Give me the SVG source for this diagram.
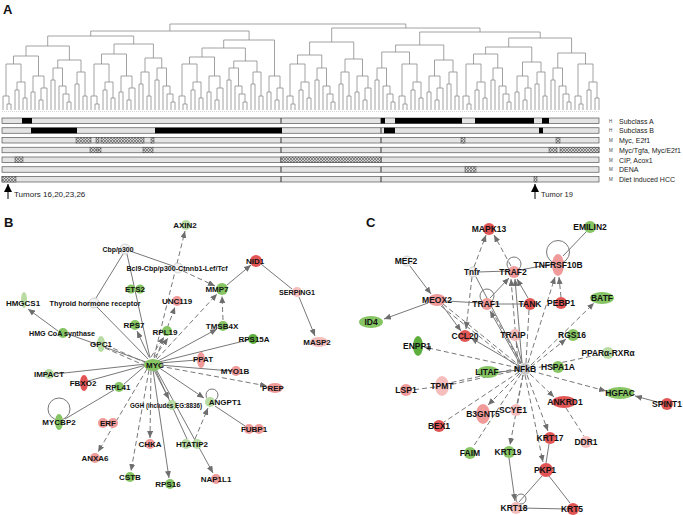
<svg xmlns="http://www.w3.org/2000/svg" width="683" height="515" viewBox="0 0 683 515">
<style>
.dend{stroke:#8a8a8a;stroke-width:0.8;fill:none}
.trk{fill:#e4e4e4;stroke:#555;stroke-width:0.7}
.blk{fill:#000}
.hat{fill:url(#hatch);stroke:#444;stroke-width:0.5}
.div{stroke:#333;stroke-width:1}
.lab{font-family:"Liberation Sans",Arial,sans-serif;font-size:7px;fill:#222}
.hm{font-family:"Liberation Sans",Arial,sans-serif;font-size:4.5px;fill:#444}
.pl{font-family:"Liberation Sans",Arial,sans-serif;font-weight:bold;font-size:13px;fill:#111}
.e{stroke:#787878;stroke-width:1;fill:none}
.d{stroke-dasharray:5 3}
.a{marker-end:url(#ah)}
.t{font-family:"Liberation Sans",Arial,sans-serif;font-weight:bold;font-size:8px;text-anchor:middle;fill:#111}
.tc{font-family:"Liberation Sans",Arial,sans-serif;font-weight:bold;font-size:8.5px;text-anchor:middle;fill:#111}
.g1{fill:#86c464}
.g2{fill:#5eae3e}
.g3{fill:#b9dca4}
.r1{fill:#e25555}
.r2{fill:#f09a9a}
.r3{fill:#f6bdbd}
.w{fill:#f2f2f2;stroke:#c8c8c8;stroke-width:0.8}
.loop{fill:none;stroke:#787878;stroke-width:1}
</style>
<defs>
<pattern id="hatch" width="3" height="3" patternUnits="userSpaceOnUse"><rect width="3" height="3" fill="#d0d0d0"/><path d="M0 0L3 3M3 0L0 3" stroke="#555" stroke-width="0.6"/></pattern>
<marker id="ah" viewBox="0 0 7 6" refX="7" refY="3" markerWidth="7" markerHeight="6" markerUnits="userSpaceOnUse" orient="auto"><path d="M0 0L7 3L0 6z" fill="#6e6e6e"/></marker>
<marker id="ak" viewBox="0 0 8 8" refX="8" refY="4" markerWidth="8" markerHeight="8" markerUnits="userSpaceOnUse" orient="auto"><path d="M0 0L8 4L0 8z" fill="#000"/></marker>
<path id="tA" d="M0 0V-18H4V0M8 0V-10H12V0M10-10V-22H16V0M2-18V-34H13V-22"/>
<path id="tB" d="M16 0V-8H20V0M12 0V-16H18V-8M8 0V-24H15V-16M0 0V-30H4V0M2-30V-42H11.5V-24"/>
<path id="tC" d="M0 0V-26H4V0M8 0V-14H12V0M2-26V-38H10V-14"/>
<path id="tD" d="M4 0V-6H8V0M0 0V-14H6V-6M12 0V-20H16V0M20 0V-12H24V0M14-20V-28H22V-12M3-14V-46H18V-28"/>
</defs>
<rect width="683" height="515" fill="#fff"/>

<!-- Panel A -->
<text class="pl" x="3" y="14">A</text>
<g id="dendrogram" class="dend" transform="translate(-1,0)">
<use href="#tD" x="4" y="110"/><use href="#tA" x="32" y="110"/><use href="#tB" x="52" y="110"/><use href="#tC" x="76" y="110"/>
<use href="#tD" x="92" y="110"/><use href="#tA" x="120" y="110"/><use href="#tC" x="140" y="110"/><use href="#tB" x="156" y="110"/>
<use href="#tD" x="180" y="110"/><use href="#tA" x="208" y="110"/><use href="#tB" x="228" y="110"/><use href="#tC" x="252" y="110"/>
<use href="#tA" x="268" y="110"/><use href="#tD" x="288" y="110"/><use href="#tB" x="316" y="110"/><use href="#tC" x="340" y="110"/>
<use href="#tA" x="356" y="110"/><use href="#tB" x="376" y="110"/><use href="#tD" x="400" y="110"/><use href="#tA" x="428" y="110"/>
<use href="#tC" x="448" y="110"/><use href="#tD" x="464" y="110"/><use href="#tB" x="492" y="110"/><use href="#tA" x="516" y="110"/>
<use href="#tC" x="536" y="110"/><use href="#tB" x="552" y="110"/><use href="#tD" x="576" y="110"/>
<path d="M14.5 64V56H39.5V76M58.75 68V60H82V72M27 56V46H70.4V60M102.5 64V54H127.5V76M146 72V58H162.75V68M115 54V44H154.4V58M48.7 46V36H134.7V44M190.5 64V57H215.5V76M234.75 68V61H258V72M203 57V48H246.4V61M224.7 48V40H275.5V76M91.7 36V31H250.1V40M298.5 64V55H322.75V68M346 72V59H363.5V76M310.6 55V42H354.75V59M382.75 68V52H410.5V64M435.5 76V60H454V72M396.6 52V45H444.75V60M474.5 64V54H498.75V68M523.5 76V62H542V72M486.6 54V47H532.75V62M558.75 68V53H586.5V64M509.7 47V38H572.6V53M420.7 45V32H541.2V38M332.7 42V28H481V32M170.9 31V24H406.8V28"/>
</g>
<line x1="2" y1="111.5" x2="599" y2="111.5" stroke="#bbb" stroke-width="0.6" stroke-dasharray="1 1"/>

<g id="tracks">
<rect class="trk" x="2" y="118" width="597" height="5.5"/>
<rect class="trk" x="2" y="127.75" width="597" height="5.5"/>
<rect class="trk" x="2" y="137.5" width="597" height="5.5"/>
<rect class="trk" x="2" y="147.25" width="597" height="5.5"/>
<rect class="trk" x="2" y="157" width="597" height="5.5"/>
<rect class="trk" x="2" y="166.75" width="597" height="5.5"/>
<rect class="trk" x="2" y="176.5" width="597" height="5.5"/>
<path class="div" d="M281 118v5.5M381 118v5.5M281 127.75v5.5M381 127.75v5.5M281 137.5v5.5M381 137.5v5.5M281 147.25v5.5M381 147.25v5.5M281 157v5.5M381 157v5.5M281 166.75v5.5M381 166.75v5.5M281 176.5v5.5M381 176.5v5.5"/>
<rect class="blk" x="22" y="118" width="10" height="5.5"/>
<rect class="blk" x="381" y="118" width="4" height="5.5"/>
<rect class="blk" x="395" y="118" width="67" height="5.5"/>
<rect class="blk" x="475" y="118" width="59" height="5.5"/>
<rect class="blk" x="542" y="118" width="7" height="5.5"/>
<rect class="blk" x="31" y="127.75" width="46" height="5.5"/>
<rect class="blk" x="155" y="127.75" width="127" height="5.5"/>
<rect class="blk" x="384" y="127.75" width="11" height="5.5"/>
<rect class="blk" x="539" y="127.75" width="4" height="5.5"/>
<rect class="hat" x="76" y="137.5" width="15" height="5.5"/>
<rect class="hat" x="96" y="137.5" width="3" height="5.5"/>
<rect class="hat" x="101" y="137.5" width="43" height="5.5"/>
<rect class="hat" x="151" y="137.5" width="3" height="5.5"/>
<rect class="hat" x="461" y="137.5" width="4" height="5.5"/>
<rect class="hat" x="556" y="137.5" width="4" height="5.5"/>
<rect class="hat" x="90" y="147.25" width="7" height="5.5"/>
<rect class="hat" x="98" y="147.25" width="3" height="5.5"/>
<rect class="hat" x="143" y="147.25" width="10" height="5.5"/>
<rect class="hat" x="549" y="147.25" width="8" height="5.5"/>
<rect class="hat" x="560" y="147.25" width="39" height="5.5"/>
<rect class="hat" x="15" y="157" width="8" height="5.5"/>
<rect class="hat" x="281" y="157" width="100" height="5.5"/>
<rect class="hat" x="465" y="166.75" width="11" height="5.5"/>
<rect class="hat" x="2" y="176.5" width="14" height="5.5"/>
<rect class="hat" x="534" y="176.5" width="3" height="5.5"/>
</g>
<g id="track-labels">
<text class="hm" x="609" y="122.5">H</text><text class="lab" x="619" y="123.5">Subclass A</text>
<text class="hm" x="609" y="132.2">H</text><text class="lab" x="619" y="133.2">Subclass B</text>
<text class="hm" x="609" y="142">M</text><text class="lab" x="619" y="143">Myc, E2f1</text>
<text class="hm" x="609" y="151.7">M</text><text class="lab" x="619" y="152.7">Myc/Tgfa, Myc/E2f1</text>
<text class="hm" x="609" y="161.5">M</text><text class="lab" x="619" y="162.5">CIP, Acox1</text>
<text class="hm" x="609" y="171.2">M</text><text class="lab" x="619" y="172.2">DENA</text>
<text class="hm" x="609" y="181">M</text><text class="lab" x="619" y="182">Diet induced HCC</text>
</g>
<g id="tumor-arrows">
<line x1="8" y1="199" x2="8" y2="184" stroke="#000" stroke-width="1" marker-end="url(#ak)"/>
<text class="lab" x="14" y="197" style="font-size:8px">Tumors 16,20,23,26</text>
<line x1="535" y1="199" x2="535" y2="184" stroke="#000" stroke-width="1" marker-end="url(#ak)"/>
<text class="lab" x="541" y="197" style="font-size:7.5px">Tumor 19</text>
</g>

<!-- Panel B -->
<text class="pl" x="4" y="227">B</text>
<g id="edges-B">
<line class="e" x1="123" y1="254" x2="96" y2="298"/>
<line class="e" x1="130" y1="251" x2="173" y2="266"/>
<line class="e" x1="127" y1="254" x2="150" y2="358"/>
<line class="e" x1="97" y1="307" x2="148" y2="359"/>
<line class="e a" x1="58" y1="331" x2="28" y2="309"/>
<line class="e" x1="68" y1="334" x2="146" y2="362"/>
<line class="e d" x1="106" y1="345" x2="146" y2="363"/>
<line class="e d" x1="105" y1="348" x2="146" y2="366"/>
<line class="e a" x1="149" y1="357" x2="137" y2="331"/>
<line class="e d a" x1="151" y1="357" x2="164" y2="337"/>
<line class="e d a" x1="154" y1="358" x2="168" y2="338"/>
<line class="e d a" x1="154" y1="357" x2="185" y2="231"/>
<line class="e d a" x1="156" y1="358" x2="175" y2="307"/>
<line class="e d a" x1="157" y1="359" x2="217" y2="294"/>
<line class="e a" x1="158" y1="361" x2="217" y2="329"/>
<line class="e d a" x1="223" y1="320" x2="222" y2="296"/>
<line class="e d a" x1="183" y1="271" x2="215" y2="286"/>
<line class="e a" x1="227" y1="285" x2="251" y2="265"/>
<line class="e" x1="261" y1="264" x2="292" y2="289"/>
<line class="e a" x1="299" y1="297" x2="315" y2="336"/>
<line class="e" x1="159" y1="362" x2="248" y2="340"/>
<line class="e" x1="159" y1="363" x2="197" y2="360"/>
<line class="e" x1="159" y1="365" x2="231" y2="371"/>
<line class="e d a" x1="159" y1="366" x2="267" y2="386"/>
<line class="e a" x1="158" y1="367" x2="204" y2="398"/>
<line class="e" x1="215" y1="406" x2="245" y2="426"/>
<line class="e d a" x1="195" y1="439" x2="208" y2="408"/>
<line class="e" x1="155" y1="369" x2="187" y2="439"/>
<line class="e a" x1="156" y1="369" x2="213" y2="473"/>
<line class="e a" x1="154" y1="370" x2="169" y2="399"/>
<line class="e a" x1="153" y1="370" x2="169" y2="478"/>
<line class="e d a" x1="151" y1="370" x2="150" y2="438"/>
<line class="e d a" x1="149" y1="370" x2="131" y2="471"/>
<line class="e d a" x1="147" y1="369" x2="98" y2="452"/>
<line class="e" x1="146" y1="365" x2="124" y2="384"/>
<line class="e" x1="114" y1="390" x2="65" y2="419"/>
<line class="e" x1="146" y1="364" x2="55" y2="374"/>
<line class="e" x1="146" y1="365" x2="88" y2="381"/>
</g>
<g id="node-MYC"><ellipse class="g1" cx="153" cy="365" rx="9" ry="6"/><text class="t" x="155" y="368">MYC</text></g>
<g id="node-AXIN2"><circle class="g3" cx="186" cy="225" r="5"/><text class="t" x="185" y="228">AXIN2</text></g>
<g id="node-Cbp"><circle class="w" cx="125" cy="249" r="5"/><text class="t" x="118" y="252" textLength="31" lengthAdjust="spacingAndGlyphs">Cbp/p300</text></g>
<g id="node-Bcl9"><circle class="w" cx="178" cy="268" r="5"/><text class="t" x="177" y="271" textLength="101" lengthAdjust="spacingAndGlyphs">Bcl9-Cbp/p300-Ctnnb1-Lef/Tcf</text></g>
<g id="node-ETS2"><circle class="g1" cx="131" cy="289" r="4.5"/><circle class="g1" cx="140" cy="289" r="4.5"/><text class="t" x="135" y="292">ETS2</text></g>
<g id="node-THR"><circle class="w" cx="94" cy="303" r="5"/><text class="t" x="95" y="306" textLength="91" lengthAdjust="spacingAndGlyphs">Thyroid hormone receptor</text></g>
<g id="node-HMGCS1"><ellipse class="g3" cx="24" cy="300" rx="3" ry="8"/><text class="t" x="23" y="306">HMGCS1</text></g>
<g id="node-UNC119"><circle class="r2" cx="177" cy="301" r="5"/><text class="t" x="177" y="304">UNC119</text></g>
<g id="node-RPS7"><circle class="g1" cx="135" cy="325" r="5"/><text class="t" x="134" y="328">RPS7</text></g>
<g id="node-RPL19"><circle class="g1" cx="167" cy="331" r="5"/><text class="t" x="165" y="335">RPL19</text></g>
<g id="node-HMGCoA"><circle class="g1" cx="63" cy="333" r="5"/><text class="t" x="62" y="336" textLength="66" lengthAdjust="spacingAndGlyphs">HMG CoA synthase</text></g>
<g id="node-GPC1"><ellipse class="g3" cx="101" cy="344" rx="4" ry="8"/><text class="t" x="101" y="347">GPC1</text></g>
<g id="node-MMP7"><circle class="g1" cx="222" cy="289" r="6"/><text class="t" x="217" y="292">MMP7</text></g>
<g id="node-NID1"><circle class="r1" cx="256" cy="261" r="6"/><text class="t" x="255" y="264">NID1</text></g>
<g id="node-SERPING1"><circle class="r3" cx="297" cy="292" r="5"/><text class="t" x="297" y="295" textLength="36" lengthAdjust="spacingAndGlyphs">SERPING1</text></g>
<g id="node-MASP2"><ellipse class="r3" cx="319" cy="342" rx="9" ry="5"/><text class="t" x="317" y="345">MASP2</text></g>
<g id="node-TMSB4X"><circle class="g1" cx="223" cy="326" r="5"/><text class="t" x="222" y="329">TMSB4X</text></g>
<g id="node-RPS15A"><circle class="g2" cx="253" cy="339" r="5"/><text class="t" x="254" y="342">RPS15A</text></g>
<g id="node-PPAT"><ellipse class="r2" cx="201" cy="360" rx="4" ry="8"/><text class="t" x="203" y="362">PPAT</text></g>
<g id="node-MYO1B"><circle class="r2" cx="236" cy="371" r="5"/><text class="t" x="235" y="374">MYO1B</text></g>
<g id="node-PREP"><ellipse class="r2" cx="275" cy="388" rx="8" ry="5"/><text class="t" x="273" y="391">PREP</text></g>
<g id="node-ANGPT1"><circle class="loop" cx="212" cy="395" r="6"/><circle class="g3" cx="210" cy="402" r="5"/><text class="t" x="225" y="405">ANGPT1</text></g>
<g id="node-GGH"><circle class="g3" cx="172" cy="405" r="5"/><text class="t" x="166" y="408" style="font-size:7px" textLength="72" lengthAdjust="spacingAndGlyphs">GGH (includes EG:8836)</text></g>
<g id="node-FUBP1"><circle class="r2" cx="249" cy="429" r="5"/><circle class="r2" cx="259" cy="429" r="5"/><text class="t" x="254" y="432">FUBP1</text></g>
<g id="node-HTATIP2"><circle class="g3" cx="186" cy="444" r="5"/><circle class="g3" cx="197" cy="444" r="5"/><text class="t" x="192" y="447">HTATIP2</text></g>
<g id="node-NAP1L1"><circle class="r2" cx="216" cy="479" r="5"/><text class="t" x="216" y="482">NAP1L1</text></g>
<g id="node-RPS16"><circle class="g1" cx="170" cy="484" r="5"/><text class="t" x="168" y="487">RPS16</text></g>
<g id="node-CHKA"><circle class="r2" cx="150" cy="444" r="5"/><text class="t" x="150" y="447">CHKA</text></g>
<g id="node-CSTB"><circle class="g1" cx="130" cy="477" r="5"/><text class="t" x="130" y="480">CSTB</text></g>
<g id="node-ANXA6"><circle class="r2" cx="95" cy="458" r="5"/><text class="t" x="95" y="461">ANXA6</text></g>
<g id="node-ERF"><circle class="r2" cx="103" cy="423" r="5"/><circle class="r2" cx="113" cy="423" r="5"/><text class="t" x="108" y="426">ERF</text></g>
<g id="node-MYCBP2"><circle class="loop" cx="59" cy="409" r="11"/><ellipse class="g1" cx="59" cy="422" rx="4" ry="8"/><text class="t" x="59" y="425">MYCBP2</text></g>
<g id="node-RPL41"><circle class="g1" cx="119" cy="387" r="5"/><text class="t" x="118" y="390">RPL41</text></g>
<g id="node-FBXO2"><ellipse class="r1" cx="84" cy="383" rx="4" ry="8"/><text class="t" x="83" y="386">FBXO2</text></g>
<g id="node-IMPACT"><circle class="g3" cx="49" cy="374" r="5"/><text class="t" x="49" y="377">IMPACT</text></g>

<!-- Panel C -->
<text class="pl" x="366" y="227">C</text>
<g id="edges-C">
<line class="e a" x1="410" y1="266" x2="431" y2="294"/>
<line class="e a" x1="428" y1="303" x2="384" y2="319"/>
<line class="e a" x1="442" y1="305" x2="461" y2="331"/>
<line class="e" x1="446" y1="301" x2="481" y2="303"/>
<line class="e" x1="493" y1="304" x2="524" y2="304"/>
<line class="e" x1="478" y1="272" x2="508" y2="271"/>
<line class="e a" x1="490" y1="298" x2="509" y2="278"/>
<line class="e" x1="520" y1="270" x2="552" y2="264"/>
<line class="e" x1="586" y1="232" x2="563" y2="256"/>
<line class="e a" x1="528" y1="298" x2="517" y2="279"/>
<line class="e a" x1="522" y1="363" x2="515" y2="279"/>
<line class="e a" x1="520" y1="364" x2="490" y2="311"/>
<line class="e" x1="521" y1="363" x2="476" y2="277"/>
<line class="e a" x1="519" y1="366" x2="471" y2="338"/>
<line class="e" x1="522" y1="363" x2="516" y2="341"/>
<line class="e" x1="519" y1="370" x2="499" y2="372"/>
<line class="e a" x1="661" y1="403" x2="635" y2="396"/>
<line class="e" x1="549" y1="444" x2="546" y2="463"/>
<line class="e" x1="542" y1="476" x2="519" y2="502"/>
<line class="e" x1="549" y1="476" x2="570" y2="503"/>
<line class="e" x1="522" y1="508" x2="567" y2="509"/>
<line class="e a" x1="509" y1="458" x2="515" y2="501"/>
<line class="e d a" x1="474" y1="267" x2="486" y2="235"/>
<line class="e d a" x1="511" y1="266" x2="494" y2="235"/>
<line class="e d a" x1="472" y1="277" x2="466" y2="329"/>
<line class="e d a" x1="561" y1="297" x2="559" y2="277"/>
<line class="e d a" x1="528" y1="363" x2="555" y2="277"/>
<line class="e d a" x1="518" y1="364" x2="511" y2="279"/>
<line class="e d a" x1="531" y1="365" x2="594" y2="303"/>
<line class="e d a" x1="531" y1="367" x2="566" y2="339"/>
<line class="e d" x1="531" y1="369" x2="602" y2="354"/>
<line class="e d a" x1="531" y1="371" x2="606" y2="391"/>
<line class="e d a" x1="530" y1="374" x2="554" y2="397"/>
<line class="e d" x1="566" y1="408" x2="584" y2="436"/>
<line class="e d a" x1="527" y1="375" x2="548" y2="431"/>
<line class="e d a" x1="525" y1="375" x2="543" y2="462"/>
<line class="e d a" x1="523" y1="375" x2="510" y2="445"/>
<line class="e d" x1="523" y1="375" x2="517" y2="404"/>
<line class="e d" x1="521" y1="374" x2="473" y2="447"/>
<line class="e d a" x1="520" y1="373" x2="488" y2="405"/>
<line class="e d" x1="519" y1="372" x2="444" y2="422"/>
<line class="e d" x1="519" y1="370" x2="449" y2="385"/>
<line class="e d" x1="519" y1="368" x2="449" y2="383"/>
<line class="e d" x1="435" y1="387" x2="412" y2="390"/>
<line class="e d a" x1="519" y1="368" x2="424" y2="347"/>
<line class="e d" x1="443" y1="304" x2="520" y2="366"/>
<line class="e d" x1="441" y1="306" x2="519" y2="368"/>
<line class="e d" x1="521" y1="364" x2="491" y2="309"/>
<line class="e d" x1="529" y1="310" x2="526" y2="363"/>
</g>
<g id="node-MAPK13"><circle class="r1" cx="489" cy="229" r="6"/><text class="tc" x="489" y="232">MAPK13</text></g>
<g id="node-EMILIN2"><circle class="g1" cx="590" cy="227" r="6"/><text class="tc" x="590" y="230">EMILIN2</text></g>
<g id="node-MEF2"><circle class="w" cx="407" cy="261" r="5"/><text class="tc" x="406" y="264">MEF2</text></g>
<g id="node-Tnfr"><circle class="w" cx="473" cy="272" r="5"/><text class="tc" x="472" y="275" textLength="16" lengthAdjust="spacingAndGlyphs">Tnfr</text></g>
<g id="node-TRAF2"><circle class="loop" cx="514" cy="264" r="7"/><circle class="r2" cx="514" cy="272" r="6"/><text class="tc" x="513" y="275">TRAF2</text></g>
<g id="node-TNFRSF10B"><circle class="loop" cx="558" cy="252" r="11.5"/><ellipse class="r2" cx="558" cy="265" rx="6" ry="11"/><text class="tc" x="558" y="268">TNFRSF10B</text></g>
<g id="node-MEOX2"><ellipse class="r2" cx="437" cy="300" rx="9" ry="6"/><text class="tc" x="437" y="303">MEOX2</text></g>
<g id="node-TRAF1"><circle class="loop" cx="487" cy="296" r="7"/><circle class="r2" cx="487" cy="304" r="6"/><text class="tc" x="486" y="307">TRAF1</text></g>
<g id="node-TANK"><circle class="r1" cx="530" cy="304" r="6"/><text class="tc" x="530" y="307">TANK</text></g>
<g id="node-PEBP1"><circle class="r1" cx="561" cy="303" r="6"/><text class="tc" x="561" y="306">PEBP1</text></g>
<g id="node-BATF"><ellipse class="g1" cx="602" cy="298" rx="12" ry="6"/><text class="tc" x="602" y="301">BATF</text></g>
<g id="node-ID4"><ellipse class="g1" cx="371" cy="322" rx="12" ry="6"/><text class="tc" x="371" y="325">ID4</text></g>
<g id="node-CCL20"><circle class="r1" cx="465" cy="336" r="6"/><text class="tc" x="465" y="339">CCL20</text></g>
<g id="node-TRAIP"><circle class="r3" cx="515" cy="335" r="6"/><text class="tc" x="513" y="338">TRAIP</text></g>
<g id="node-RGS16"><circle class="g1" cx="573" cy="335" r="6"/><text class="tc" x="572" y="338">RGS16</text></g>
<g id="node-ENPP1"><ellipse class="g2" cx="418" cy="346" rx="5" ry="10"/><text class="tc" x="417" y="349">ENPP1</text></g>
<g id="node-PPAR"><circle class="g3" cx="608" cy="353" r="6"/><text class="tc" x="608" y="356" textLength="53" lengthAdjust="spacingAndGlyphs">PPARα-RXRα</text></g>
<g id="node-NFkB"><circle fill="#c8c8c8" cx="525" cy="369" r="6"/><text class="tc" x="525" y="372">NFkB</text></g>
<g id="node-HSPA1A"><circle class="g1" cx="558" cy="367" r="6"/><text class="tc" x="558" y="370">HSPA1A</text></g>
<g id="node-LITAF"><ellipse class="g1" cx="488" cy="372" rx="11" ry="6"/><text class="tc" x="487" y="375">LITAF</text></g>
<g id="node-LSP1"><circle class="r2" cx="406" cy="390" r="6"/><text class="tc" x="406" y="393">LSP1</text></g>
<g id="node-TPMT"><ellipse class="r3" cx="442" cy="386" rx="7" ry="10"/><text class="tc" x="442" y="389">TPMT</text></g>
<g id="node-HGFAC"><ellipse class="g1" cx="620" cy="393" rx="14" ry="6"/><text class="tc" x="620" y="396">HGFAC</text></g>
<g id="node-SPINT1"><circle class="r1" cx="667" cy="404" r="6"/><text class="tc" x="667" y="407">SPINT1</text></g>
<g id="node-ANKRD1"><ellipse class="r1" cx="564" cy="402" rx="12" ry="6"/><text class="tc" x="565" y="405">ANKRD1</text></g>
<g id="node-SCYE1"><circle class="r3" cx="516" cy="410" r="6"/><text class="tc" x="513" y="413">SCYE1</text></g>
<g id="node-B3GNT5"><ellipse class="r2" cx="483" cy="414" rx="7" ry="10"/><text class="tc" x="483" y="417">B3GNT5</text></g>
<g id="node-BEX1"><circle class="r1" cx="439" cy="426" r="6"/><text class="tc" x="439" y="429">BEX1</text></g>
<g id="node-DDR1"><circle class="r3" cx="586" cy="442" r="6"/><text class="tc" x="586" y="445">DDR1</text></g>
<g id="node-KRT17"><circle class="r1" cx="550" cy="438" r="6"/><text class="tc" x="550" y="441">KRT17</text></g>
<g id="node-KRT19"><circle class="g1" cx="509" cy="452" r="6"/><text class="tc" x="508" y="455">KRT19</text></g>
<g id="node-FAIM"><circle class="g1" cx="470" cy="453" r="6"/><text class="tc" x="470" y="456">FAIM</text></g>
<g id="node-PKP1"><circle class="r1" cx="546" cy="470" r="7"/><text class="tc" x="545" y="473">PKP1</text></g>
<g id="node-KRT18"><circle class="loop" cx="521" cy="499" r="5"/><circle class="r3" cx="516" cy="508" r="6"/><text class="tc" x="514" y="511">KRT18</text></g>
<g id="node-KRT5"><circle class="r1" cx="573" cy="509" r="6"/><text class="tc" x="572" y="512">KRT5</text></g>
</svg>
